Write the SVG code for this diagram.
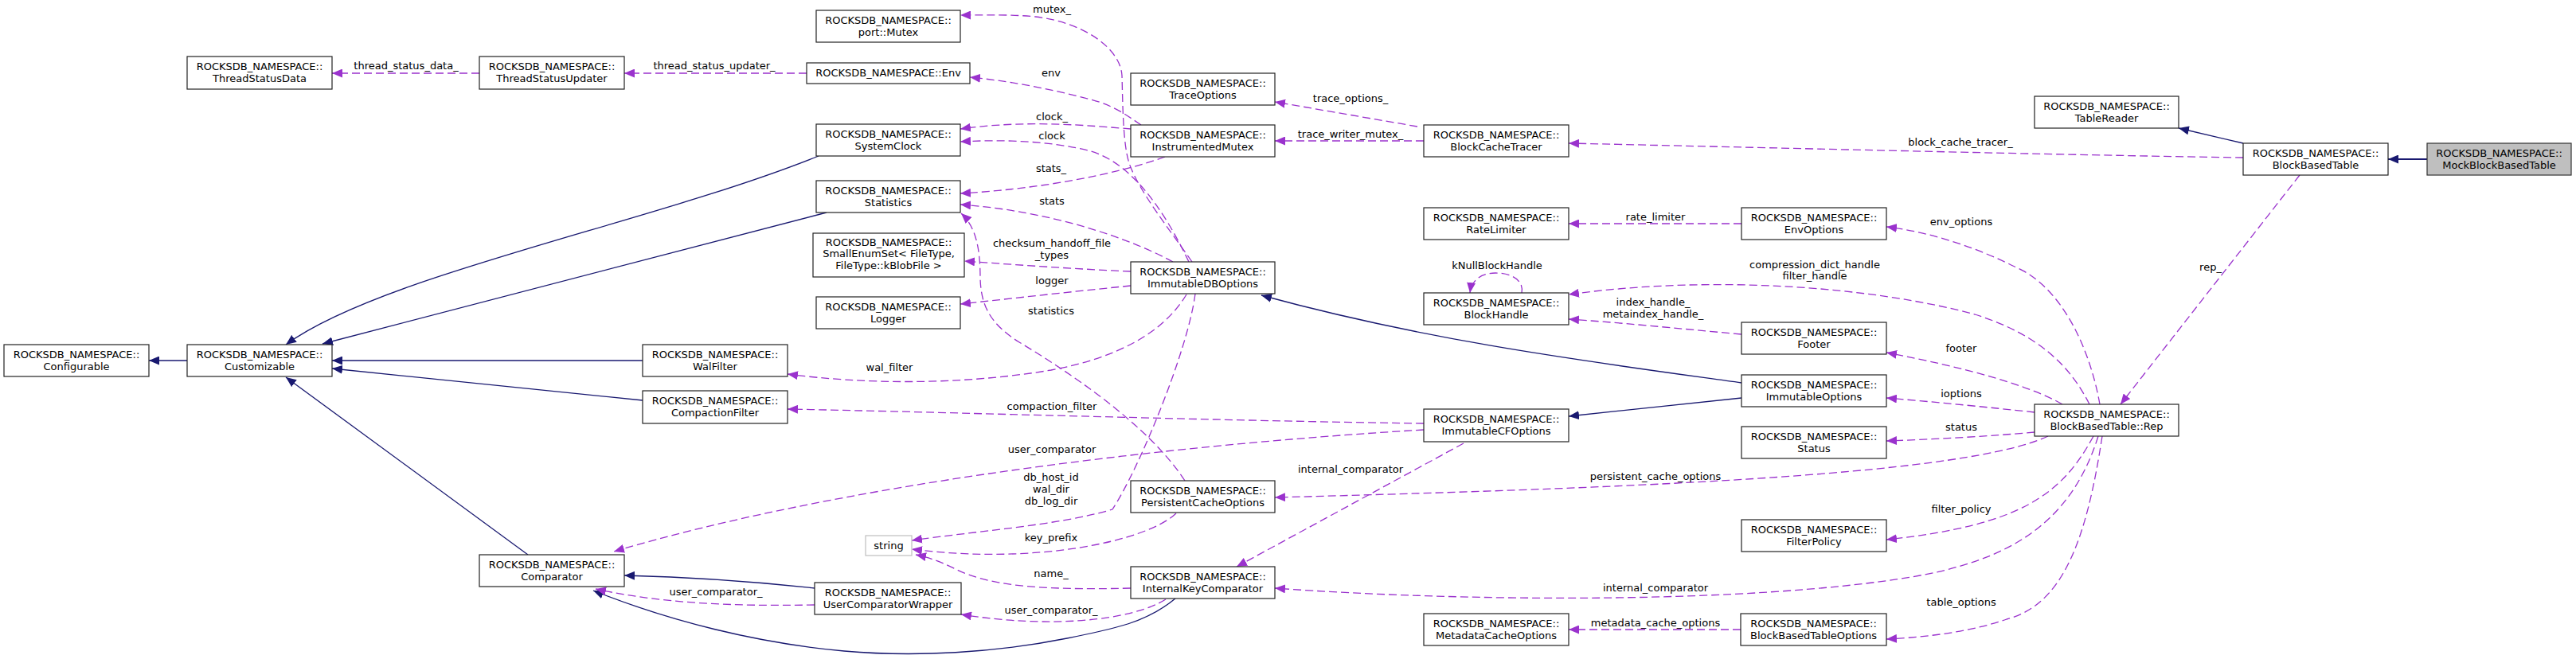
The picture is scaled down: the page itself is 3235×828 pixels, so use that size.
<svg xmlns="http://www.w3.org/2000/svg" width="3235" height="828" viewBox="0 0 3235 828">
<style>
text{font-family:"DejaVu Sans","Liberation Sans",sans-serif;font-size:13px;fill:#000;text-anchor:middle}
.n rect{fill:#fff;stroke:#222;stroke-width:1.2}
.n rect.g{stroke:#bfbfbf}
.n rect.cur{fill:#bfbfbf;stroke:#333}
.inh{fill:none;stroke:#191970;stroke-width:1.3;marker-end:url(#ab)}
.use{fill:none;stroke:#9a32cd;stroke-width:1.3;stroke-dasharray:10,5;marker-end:url(#ap)}
</style>
<defs>
<marker id="ab" viewBox="0 0 13 11" refX="13" refY="5.5" markerWidth="13" markerHeight="11" orient="auto" markerUnits="userSpaceOnUse"><path d="M0,0 L13,5.5 L0,11 z" fill="#191970"/></marker>
<marker id="ap" viewBox="0 0 13 11" refX="13" refY="5.5" markerWidth="13" markerHeight="11" orient="auto" markerUnits="userSpaceOnUse"><path d="M0,0 L13,5.5 L0,11 z" fill="#9a32cd"/></marker>
</defs>
<rect width="3235" height="828" fill="#fff"/>
<g id="connectors">
<path class="inh" d="M235,453 L187,453"/>
<path class="inh" d="M1028,196 C820,280 480,345 359,433"/>
<path class="inh" d="M1038,267 L405,432"/>
<path class="inh" d="M807,453 L417,453"/>
<path class="inh" d="M807,503 L417,463"/>
<path class="inh" d="M663,697 L359,474"/>
<path class="inh" d="M1023,739 C950,731 870,725 784,723"/>
<path class="inh" d="M1476,752 C1440,782 1400,790 1340,802 C1250,820 1150,826 1060,818 C950,808 840,780 745,742"/>
<path class="inh" d="M2187,481 C2000,455 1800,430 1584,371"/>
<path class="inh" d="M2187,500 L1970,523"/>
<path class="inh" d="M2817,180 L2736,161"/>
<path class="inh" d="M3048,200 L2999,200" style="stroke-width:2"/>
<path class="use" d="M602,92 L417,92"/>
<path class="use" d="M1013,92 L784,92"/>
<path class="use" d="M1497,329 C1470,290 1430,240 1418,205 C1410,180 1410,130 1409,95 C1407,60 1360,28 1300,21 C1270,18 1240,19 1206,19"/>
<path class="use" d="M1433,157 C1415,145 1400,133 1370,125 C1320,112 1270,102 1218,97"/>
<path class="use" d="M1420,162 C1370,158 1290,150 1206,162"/>
<path class="use" d="M1493,329 C1460,260 1420,205 1370,190 C1320,177 1260,175 1206,178"/>
<path class="use" d="M1463,197 C1400,220 1300,238 1206,243"/>
<path class="use" d="M1473,329 C1420,300 1320,265 1206,257"/>
<path class="use" d="M1420,341 C1350,338 1280,333 1211,328"/>
<path class="use" d="M1420,359 C1350,366 1280,374 1206,382"/>
<path class="use" d="M1490,370 C1460,420 1400,450 1320,465 C1200,485 1080,482 989,470"/>
<path class="use" d="M1501,369 C1492,440 1430,590 1397,640 C1330,660 1220,668 1145,679"/>
<path class="use" d="M1488,604 C1440,530 1330,460 1280,430 C1240,405 1232,380 1231,350 C1231,310 1225,285 1207,268"/>
<path class="use" d="M1788,532 C1500,528 1200,518 989,514"/>
<path class="use" d="M1788,540 C1450,560 1050,610 771,693"/>
<path class="use" d="M1838,557 L1553,712"/>
<path class="use" d="M1477,645 C1440,680 1300,710 1145,690"/>
<path class="use" d="M1420,739 C1300,742 1240,735 1200,715 C1180,705 1165,700 1150,697"/>
<path class="use" d="M1464,753 C1420,780 1320,790 1207,772"/>
<path class="use" d="M1023,760 C920,762 830,758 748,740"/>
<path class="use" d="M1780,159 L1601,128"/>
<path class="use" d="M1788,177 L1601,177"/>
<path class="use" d="M2817,198 C2600,195 2200,185 1970,180"/>
<path class="use" d="M2187,281 L1970,281"/>
<path class="use" d="M2637,508 C2625,440 2590,360 2530,335 C2490,315 2430,292 2369,285"/>
<path class="use" d="M1911,368 C1914,352 1898,343 1878,343 C1860,343 1848,352 1846,368"/>
<path class="use" d="M2624,508 C2600,460 2560,420 2480,395 C2350,360 2150,345 1970,370"/>
<path class="use" d="M2187,420 C2100,412 2030,405 1970,401"/>
<path class="use" d="M2590,508 C2550,485 2470,462 2369,443"/>
<path class="use" d="M2555,518 C2500,512 2430,505 2369,500"/>
<path class="use" d="M2555,543 C2500,548 2430,552 2369,554"/>
<path class="use" d="M2572,548 C2470,595 2100,612 1601,625"/>
<path class="use" d="M2629,548 C2590,620 2540,660 2369,678"/>
<path class="use" d="M2635,548 C2600,660 2520,705 2400,725 C2200,758 1850,757 1601,739"/>
<path class="use" d="M2640,548 C2620,680 2590,760 2520,778 C2480,792 2430,800 2369,803"/>
<path class="use" d="M2186,791 L1970,791"/>
<path class="use" d="M2888,220 L2663,508"/>
<text x="510" y="87">thread_status_data_</text>
<text x="897" y="87">thread_status_updater_</text>
<text x="1321" y="16">mutex_</text>
<text x="1320" y="96">env</text>
<text x="1321" y="151">clock_</text>
<text x="1321" y="175">clock</text>
<text x="1320" y="216">stats_</text>
<text x="1321" y="257">stats</text>
<text x="1321" y="310">checksum_handoff_file</text>
<text x="1321" y="325">_types</text>
<text x="1321" y="357">logger</text>
<text x="1320" y="395">statistics</text>
<text x="1117" y="466">wal_filter</text>
<text x="1321" y="515">compaction_filter</text>
<text x="1321" y="569">user_comparator</text>
<text x="1320" y="604">db_host_id</text>
<text x="1320" y="619">wal_dir</text>
<text x="1320" y="634">db_log_dir</text>
<text x="1320" y="680">key_prefix</text>
<text x="1320" y="725">name_</text>
<text x="899" y="748">user_comparator_</text>
<text x="1320" y="771">user_comparator_</text>
<text x="1696" y="128">trace_options_</text>
<text x="1696" y="173">trace_writer_mutex_</text>
<text x="2079" y="277">rate_limiter</text>
<text x="1880" y="338">kNullBlockHandle</text>
<text x="2279" y="337">compression_dict_handle</text>
<text x="2279" y="351">filter_handle</text>
<text x="2076" y="384">index_handle_</text>
<text x="2076" y="399">metaindex_handle_</text>
<text x="2462" y="183">block_cache_tracer_</text>
<text x="1696" y="594">internal_comparator</text>
<text x="2079" y="603">persistent_cache_options</text>
<text x="2079" y="743">internal_comparator</text>
<text x="2079" y="787">metadata_cache_options</text>
<text x="2463" y="283">env_options</text>
<text x="2776" y="340">rep_</text>
<text x="2463" y="442">footer</text>
<text x="2463" y="499">ioptions</text>
<text x="2463" y="541">status</text>
<text x="2463" y="644">filter_policy</text>
<text x="2463" y="761">table_options</text>
</g>
<g id="ThreadStatusData" class="n"><rect x="235" y="71" width="182" height="41"/><text x="326" y="88">ROCKSDB_NAMESPACE::</text><text x="326" y="102.5">ThreadStatusData</text></g>
<g id="ThreadStatusUpdater" class="n"><rect x="602" y="71" width="182" height="41"/><text x="693" y="88">ROCKSDB_NAMESPACE::</text><text x="693" y="102.5">ThreadStatusUpdater</text></g>
<g id="PortMutex" class="n"><rect x="1025" y="13" width="181" height="40"/><text x="1115.5" y="30">ROCKSDB_NAMESPACE::</text><text x="1115.5" y="44.5">port::Mutex</text></g>
<g id="Env" class="n"><rect x="1013" y="79" width="205" height="26"/><text x="1115.5" y="96">ROCKSDB_NAMESPACE::Env</text></g>
<g id="SystemClock" class="n"><rect x="1025" y="156" width="181" height="40"/><text x="1115.5" y="173">ROCKSDB_NAMESPACE::</text><text x="1115.5" y="187.5">SystemClock</text></g>
<g id="Statistics" class="n"><rect x="1025" y="227" width="181" height="40"/><text x="1115.5" y="244">ROCKSDB_NAMESPACE::</text><text x="1115.5" y="258.5">Statistics</text></g>
<g id="SmallEnumSet" class="n"><rect x="1021" y="293" width="190" height="55"/><text x="1116" y="308.5">ROCKSDB_NAMESPACE::</text><text x="1116" y="323">SmallEnumSet&lt; FileType,</text><text x="1116" y="337.5">FileType::kBlobFile &gt;</text></g>
<g id="Logger" class="n"><rect x="1025" y="373" width="181" height="40"/><text x="1115.5" y="390">ROCKSDB_NAMESPACE::</text><text x="1115.5" y="404.5">Logger</text></g>
<g id="WalFilter" class="n"><rect x="807" y="433" width="182" height="40"/><text x="898" y="450">ROCKSDB_NAMESPACE::</text><text x="898" y="464.5">WalFilter</text></g>
<g id="CompactionFilter" class="n"><rect x="807" y="491" width="182" height="41"/><text x="898" y="508">ROCKSDB_NAMESPACE::</text><text x="898" y="522.5">CompactionFilter</text></g>
<g id="Configurable" class="n"><rect x="5" y="433" width="182" height="40"/><text x="96" y="450">ROCKSDB_NAMESPACE::</text><text x="96" y="464.5">Configurable</text></g>
<g id="Customizable" class="n"><rect x="235" y="433" width="182" height="40"/><text x="326" y="450">ROCKSDB_NAMESPACE::</text><text x="326" y="464.5">Customizable</text></g>
<g id="Comparator" class="n"><rect x="602" y="697" width="182" height="40"/><text x="693" y="714">ROCKSDB_NAMESPACE::</text><text x="693" y="728.5">Comparator</text></g>
<g id="string" class="n"><rect class="g" x="1087" y="673" width="58" height="25"/><text x="1116" y="689.5">string</text></g>
<g id="UserComparatorWrapper" class="n"><rect x="1023" y="732" width="184" height="40"/><text x="1115" y="749">ROCKSDB_NAMESPACE::</text><text x="1115" y="763.5">UserComparatorWrapper</text></g>
<g id="TraceOptions" class="n"><rect x="1420" y="92" width="181" height="40"/><text x="1510.5" y="109">ROCKSDB_NAMESPACE::</text><text x="1510.5" y="123.5">TraceOptions</text></g>
<g id="InstrumentedMutex" class="n"><rect x="1420" y="157" width="181" height="40"/><text x="1510.5" y="174">ROCKSDB_NAMESPACE::</text><text x="1510.5" y="188.5">InstrumentedMutex</text></g>
<g id="ImmutableDBOptions" class="n"><rect x="1420" y="329" width="181" height="40"/><text x="1510.5" y="346">ROCKSDB_NAMESPACE::</text><text x="1510.5" y="360.5">ImmutableDBOptions</text></g>
<g id="PersistentCacheOptions" class="n"><rect x="1420" y="604" width="181" height="40"/><text x="1510.5" y="621">ROCKSDB_NAMESPACE::</text><text x="1510.5" y="635.5">PersistentCacheOptions</text></g>
<g id="InternalKeyComparator" class="n"><rect x="1420" y="712" width="181" height="40"/><text x="1510.5" y="729">ROCKSDB_NAMESPACE::</text><text x="1510.5" y="743.5">InternalKeyComparator</text></g>
<g id="BlockCacheTracer" class="n"><rect x="1788" y="157" width="182" height="40"/><text x="1879" y="174">ROCKSDB_NAMESPACE::</text><text x="1879" y="188.5">BlockCacheTracer</text></g>
<g id="RateLimiter" class="n"><rect x="1788" y="261" width="182" height="40"/><text x="1879" y="278">ROCKSDB_NAMESPACE::</text><text x="1879" y="292.5">RateLimiter</text></g>
<g id="BlockHandle" class="n"><rect x="1788" y="368" width="182" height="40"/><text x="1879" y="385">ROCKSDB_NAMESPACE::</text><text x="1879" y="399.5">BlockHandle</text></g>
<g id="ImmutableCFOptions" class="n"><rect x="1788" y="514" width="182" height="41"/><text x="1879" y="531">ROCKSDB_NAMESPACE::</text><text x="1879" y="545.5">ImmutableCFOptions</text></g>
<g id="MetadataCacheOptions" class="n"><rect x="1788" y="771" width="182" height="40"/><text x="1879" y="788">ROCKSDB_NAMESPACE::</text><text x="1879" y="802.5">MetadataCacheOptions</text></g>
<g id="EnvOptions" class="n"><rect x="2187" y="261" width="182" height="40"/><text x="2278" y="278">ROCKSDB_NAMESPACE::</text><text x="2278" y="292.5">EnvOptions</text></g>
<g id="Footer" class="n"><rect x="2187" y="405" width="182" height="40"/><text x="2278" y="422">ROCKSDB_NAMESPACE::</text><text x="2278" y="436.5">Footer</text></g>
<g id="ImmutableOptions" class="n"><rect x="2187" y="471" width="182" height="40"/><text x="2278" y="488">ROCKSDB_NAMESPACE::</text><text x="2278" y="502.5">ImmutableOptions</text></g>
<g id="Status" class="n"><rect x="2187" y="536" width="182" height="40"/><text x="2278" y="553">ROCKSDB_NAMESPACE::</text><text x="2278" y="567.5">Status</text></g>
<g id="FilterPolicy" class="n"><rect x="2187" y="653" width="182" height="40"/><text x="2278" y="670">ROCKSDB_NAMESPACE::</text><text x="2278" y="684.5">FilterPolicy</text></g>
<g id="BlockBasedTableOptions" class="n"><rect x="2186" y="771" width="183" height="40"/><text x="2277.5" y="788">ROCKSDB_NAMESPACE::</text><text x="2277.5" y="802.5">BlockBasedTableOptions</text></g>
<g id="TableReader" class="n"><rect x="2555" y="121" width="181" height="40"/><text x="2645.5" y="138">ROCKSDB_NAMESPACE::</text><text x="2645.5" y="152.5">TableReader</text></g>
<g id="BlockBasedTableRep" class="n"><rect x="2555" y="508" width="181" height="40"/><text x="2645.5" y="525">ROCKSDB_NAMESPACE::</text><text x="2645.5" y="539.5">BlockBasedTable::Rep</text></g>
<g id="BlockBasedTable" class="n"><rect x="2817" y="180" width="182" height="40"/><text x="2908" y="197">ROCKSDB_NAMESPACE::</text><text x="2908" y="211.5">BlockBasedTable</text></g>
<g id="MockBlockBasedTable" class="n"><rect class="cur" x="3048" y="180" width="181" height="40"/><text x="3138.5" y="197">ROCKSDB_NAMESPACE::</text><text x="3138.5" y="211.5">MockBlockBasedTable</text></g>
</svg>
